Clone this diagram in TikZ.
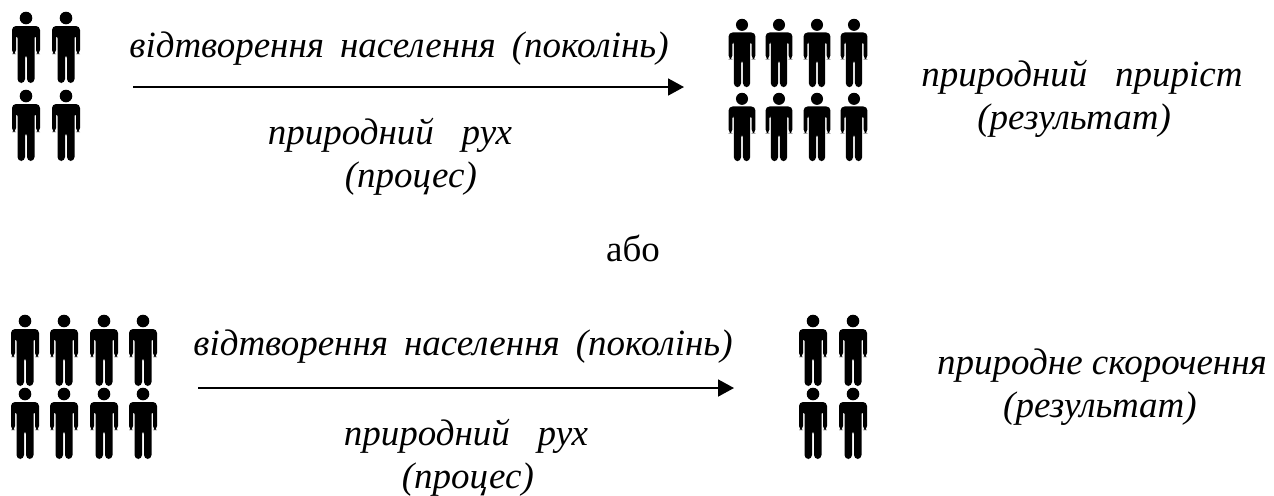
\documentclass[tikz,border=0pt]{standalone}
\usepackage{fontspec}
\setmainfont{Liberation Serif}
\usetikzlibrary{arrows.meta}
\newcommand{\widewords}{\spaceskip=8pt\relax}
\tikzset{
  lbl/.style={font=\fontsize{18.5}{21.5}\selectfont\itshape,align=left,inner sep=0pt},
  widelbl/.style={lbl,execute at begin node=\widewords},
  flow/.style={-{Triangle[length=8pt,width=8.5pt]},line width=0.9pt},
  person/.pic={
    \fill[black] (0,5) circle (6.3);
    \fill[black,rounded corners=2pt] (-14,13) -- (14,13) -- (14,41) -- (10,41) -- (10,21) -- (8.5,21) -- (8.5,70) -- (1,70) -- (1,41) -- (-1,41) -- (-1,70) -- (-8.5,70) -- (-8.5,21) -- (-10,21) -- (-10,41) -- (-14,41) -- cycle;
  }
}
\begin{document}
\begin{tikzpicture}[x=0.5pt,y=-0.5pt]
  \useasboundingbox (0,0) rectangle (1274,495);
  % first line
  \foreach \px in {26,66}
    \foreach \py in {13,91}
      \pic at (\px,\py) {person};
  \foreach \px in {742,779,817,854}
    \foreach \py in {20,94}
      \pic[scale=.96] at (\px,\py) {person};
  \node at (399,49) [widelbl] (t1) {відтворення населення (поколінь)};
  \coordinate (a1) at (133,87);
  \coordinate (b1) at (684,87);
  \draw[flow] (a1) -- (b1);
  \node at (390,157) [lbl] (p1) {природний\ \ \ рух\\\hspace*{38.5pt}(процес)};
  \node at (1082,99) [lbl] (r1) {природний\ \ \ приріст\\\hspace*{28pt}(результат)};
  \node at (633,248) [font=\fontsize{18.5}{21.5}\selectfont,inner sep=0pt] (or) {або};
  % second line
  \foreach \px in {25,64,104,143}
    \foreach \py in {316,389}
      \pic at (\px,\py) {person};
  \foreach \px in {813,853}
    \foreach \py in {316,389}
      \pic at (\px,\py) {person};
  \node at (463,347) [widelbl] (t2) {відтворення населення (поколінь)};
  \coordinate (a2) at (198,388);
  \coordinate (b2) at (734,388);
  \draw[flow] (a2) -- (b2);
  \node at (466,458) [lbl] (p2) {природний\ \ \ рух\\\hspace*{29pt}(процес)};
  \node at (1102,387) [lbl] (r2) {природне скорочення\\\hspace*{33pt}(результат)};
\end{tikzpicture}
\end{document}
